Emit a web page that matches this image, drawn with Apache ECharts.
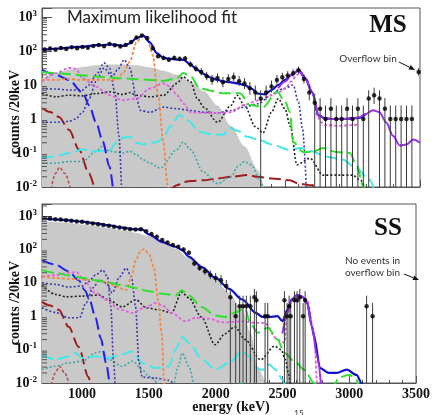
<!DOCTYPE html>
<html><head><meta charset="utf-8">
<script src="https://cdn.jsdelivr.net/npm/echarts@6/dist/echarts.min.js"></script>
<style>html,body{margin:0;padding:0;background:#fff}#c{width:433px;height:415px}</style>
</head><body><div id="c"></div>
<script>
// ---------- axis / tick data ----------
const xRange = [700, 3500];
const xTickLabels = [1000, 1500, 2000, 2500, 3000, 3500];
const yTickExponents = [-2, -1, 0, 1, 2, 3];
const yMaxMS = 1840, yMaxSS = 2290;

// ---------- MS panel: measured points ----------
const msE = [720,760,800,840,880,920,960,1000,1040,1080,1120,1160,1200,1240,1280,1320,1360,1400,1440,1480,1520,1560,1600,1640,1680,1720,1760,1800,1840,1880,1920,1960,2000,2040,2080,2120,2160,2200,2240,2280,2320,2360,2400,2440,2480,2520,2560,2600,2640,2680,2720,2760,2800,2840,2880,2920,2960,3000,3040,3080,3120,3160,3200,3240,3280,3320,3360,3400,3440,3490];
const msN = [110,118,108,122,115,128,120,132,125,140,
             150,138,160,148,135,150,185,250,285,240,
             120,70,62,55,62,58,60,40,30,24,
             18,14,16,12,15,17,13,11,8,6,
             4,6,9,14,17,19,22,27,15,6,
             3,2,1,2,1,1,2,1,2,1,
             4,5,4,2,1,1,1,1,1,24];

// ---------- MS panel: fit components [energy, counts/20keV] ----------
const msGray = [[700,15.8],[800,22.4],[900,28.2],[1000,34],[1100,38],[1200,40],[1300,40],[1400,38],[1500,33],[1600,26.3],[1700,20],[1800,12.6],[1900,6.6],[2000,2.5],[2100,0.63],[2200,0.158],[2300,0.0316],[2350,0.01],[2400,0.003]];
const msTotal = [[700,112],[750,112],[800,117],[850,120],[900,126],[950,132],[1000,132],[1050,141],[1100,148],[1150,148],[1200,158],[1250,151],[1300,141],[1350,166],[1400,240],[1450,282],[1500,178],[1550,87],[1600,63],[1650,59],[1700,56],[1750,55],[1800,40],[1850,28],[1900,21],[1950,16.6],[2000,14.1],[2050,12.6],[2100,12],[2150,11.2],[2200,10],[2250,7.9],[2300,5.6],[2350,5.25],[2400,7.1],[2450,10],[2500,14.1],[2550,20],[2600,27.5],[2650,15.8],[2700,6.3],[2750,1.26],[2800,1.05],[2850,1],[2900,1],[2950,1],[3000,1.05],[3050,1.07],[3100,1.41]];
const msPurple = [[2450,8],[2500,12.6],[2550,20],[2600,27.5],[2650,15.8],[2700,6.3],[2750,1.26],[2800,1],[2900,1],[3000,1.05],[3050,1.12],[3100,1.41],[3150,1.82],[3200,1.58],[3250,0.79],[3300,0.32],[3350,0.166],[3400,0.178],[3450,0.25],[3500,0.2]];
const msGreen = [[700,24],[800,22.4],[900,20.9],[1000,19],[1100,17.8],[1200,16.6],[1300,15.8],[1400,14.8],[1500,14.1],[1600,13.2],[1700,15.8],[1745,22.4],[1800,18],[1870,7.9],[2040,5.75],[2166,5.75],[2240,2.57],[2337,2.24],[2441,6.3],[2500,3.2],[2537,1.58],[2560,0.21],[2633,0.107],[2707,0.107],[2780,0.141],[2880,0.107],[2980,0.1],[3030,0.045],[3078,0.0112],[3100,0.005]];
const msOrange = [[700,14.1],[800,14.1],[900,15.1],[1000,14.1],[1100,14.1],[1200,14.1],[1250,14.1],[1300,22],[1350,48],[1400,180],[1450,290],[1480,240],[1520,76],[1560,5],[1600,0.2],[1630,0.0112],[1650,0.003]];
const msMagenta = [[700,12.6],[800,22.4],[900,31.6],[950,30.2],[1000,15.8],[1100,8.9],[1200,5],[1300,3.55],[1400,4],[1500,7.9],[1600,11.2],[1650,9],[1700,5],[1750,2.8],[1800,1.58],[1900,1.51],[2000,1.51],[2100,1.58],[2200,2.6],[2300,3.5],[2400,5],[2460,6.3],[2500,8],[2550,13],[2590,20],[2620,24],[2660,15],[2700,6.3],[2740,1.2],[2770,0.79],[2800,0.66],[2900,0.63],[3000,0.66],[3050,0.7]];
const msBlueLong = [[700,28],[800,20],[900,14],[1000,6],[1050,2.5],[1100,0.8],[1150,0.22],[1200,0.04],[1230,0.006]];
const msNavyA = [[700,7.9],[800,7.6],[900,7.1],[1000,7.1],[1050,10],[1100,20],[1160,44.7],[1200,31.6],[1240,6.3],[1270,0.316],[1290,0.0063]];
const msNavyB = [[700,0.8],[800,0.8],[900,0.85],[950,1.0],[1000,1.58],[1050,4],[1100,12.6],[1160,31.6],[1220,17.8],[1260,28.2],[1310,55],[1350,31.6],[1400,4],[1430,1.78],[1500,1.58],[1600,2.24],[1700,2],[1800,1.78],[1900,1.58],[2000,1.51],[2100,1.78],[2200,2.24],[2300,2.8],[2400,5],[2450,7.1],[2500,7.9],[2560,10],[2600,3.16],[2630,0.5],[2660,0.0063]];
const msBlackDot = [[700,5.6],[800,4.5],[900,5],[1000,4.8],[1100,5.6],[1200,6.3],[1300,5.25],[1350,6],[1400,5],[1500,4.5],[1600,5],[1700,11.2],[1745,17.4],[1800,12.6],[1850,4],[1900,2.2],[2000,0.8],[2100,2.5],[2144,5],[2200,2.5],[2280,0.6],[2337,0.39],[2400,1.58],[2450,4],[2500,2],[2540,0.6],[2588,0.045],[2685,0.07],[2782,0.0224],[2900,0.0224],[3000,0.0224],[3060,0.0158],[3107,0.0063]];
const msCyan = [[700,0.071],[800,0.079],[900,0.1],[1000,0.126],[1100,0.112],[1200,0.12],[1250,0.2],[1300,0.28],[1350,0.3],[1400,0.2],[1450,0.178],[1500,0.2],[1550,0.21],[1600,0.28],[1650,0.6],[1720,1.32],[1780,0.9],[1870,0.42],[1950,0.355],[2040,0.34],[2093,0.55],[2150,0.45],[2220,0.3],[2300,0.25],[2400,0.178],[2537,0.123],[2611,0.141],[2700,0.112],[2800,0.079],[2930,0.063],[3030,0.035],[3130,0.0158],[3160,0.008]];
const msTeal = [[700,0.05],[800,0.05],[900,0.056],[1000,0.056],[1100,0.112],[1150,0.158],[1200,0.112],[1300,0.1],[1350,0.112],[1400,0.089],[1450,0.063],[1500,0.05],[1574,0.036],[1700,0.126],[1745,0.21],[1800,0.126],[1893,0.028],[2000,0.0126],[2100,0.02],[2150,0.04],[2200,0.056],[2250,0.045],[2315,0.0158],[2350,0.0063]];
const msRedLong = [[700,2.1],[760,1.6],[826,1.15],[900,0.48],[974,0.126],[1048,0.025],[1093,0.01],[1110,0.006]];
const msRedLong2 = [[1650,0.0079],[1700,0.0112],[1750,0.0141],[1800,0.0151],[1900,0.0158],[2000,0.0178],[2100,0.02],[2218,0.0224],[2300,0.02],[2400,0.0178],[2537,0.0158],[2600,0.0126],[2700,0.0112],[2760,0.0079]];
const msRedDot = [[760,0.0063],[800,0.025],[830,0.038],[870,0.025],[920,0.0063]];

// ---------- SS panel: measured points ----------
const ssE = [720,760,800,840,880,920,960,1000,1040,1080,1120,1160,1200,1240,1280,1320,1360,1400,1440,1480,1520,1560,1600,1640,1680,1720,1760,1800,1840,1880,1920,1960,2000,2040,2080,
             2110,2150,2180,2205,2230,2260,2290,2305,2370,2390,2515,2535,2550,2562,2590,2610,2630,2655,2670,3130,3175];
const ssN = [860,840,800,780,750,720,690,670,630,600,
             570,540,510,480,450,420,400,395,405,350,
             290,240,190,160,135,120,100,80,38,28,
             22,17,14,12,8,
             3.7,1,2,2,2,2,3.7,3,1,1,3,1,2,1,3,3,3.7,1,3,2,1];

// ---------- SS panel: fit components ----------
const ssGray = [[700,708],[800,661],[900,617],[1000,562],[1100,501],[1200,437],[1300,372],[1400,316],[1500,251],[1600,160],[1700,105],[1800,55],[1900,27],[2000,13],[2093,5.2],[2200,1.6],[2263,0.316],[2315,0.0316],[2367,0.0126],[2380,0.005]];
const ssTotal = [[700,851],[800,794],[900,741],[1000,676],[1100,603],[1200,525],[1300,447],[1400,398],[1450,398],[1500,282],[1600,166],[1700,120],[1750,95],[1800,60],[1900,29],[2000,14],[2100,6.6],[2200,3.16],[2300,1.26],[2350,0.95],[2400,0.95],[2463,1.0],[2500,0.71],[2537,1.55],[2570,3.2],[2611,4.27],[2650,3.8],[2685,2.5],[2720,0.5],[2737,0.25],[2782,0.028],[2850,0.02],[2907,0.02],[2981,0.025],[3055,0.0174],[3093,0.01],[3110,0.005]];
const ssPurple = [[2500,0.3],[2537,1.3],[2570,3],[2611,4.27],[2650,3.8],[2685,2.5],[2720,0.5],[2760,0.063],[2790,0.0079]];
const ssGreen = [[700,24],[800,20],[900,16.6],[1000,14.1],[1100,12],[1200,10],[1300,8.5],[1400,7],[1500,5.6],[1600,4.7],[1700,4.2],[1745,6],[1800,4.2],[1893,1.9],[2000,1.05],[2070,0.95],[2150,1.3],[2218,1.78],[2260,0.6],[2315,0.32],[2390,0.45],[2463,0.2],[2515,0.079],[2589,0.045],[2663,0.025],[2737,0.01],[2780,0.005],[2860,0.006],[2930,0.015],[3004,0.0178],[3050,0.0126],[3080,0.006]];
const ssOrange = [[700,15.8],[800,14.1],[900,13.2],[1000,12.6],[1107,12],[1200,10],[1250,7.9],[1330,6],[1370,15.8],[1404,48],[1430,80],[1463,102],[1500,75],[1537,30],[1570,3],[1596,0.3],[1615,0.01],[1625,0.004]];
const ssMagenta = [[700,14.8],[800,17],[900,20],[960,21],[1000,14],[1100,5],[1181,3.1],[1280,1.6],[1374,1.26],[1470,1.8],[1552,2.5],[1610,2],[1670,1.26],[1774,0.7],[1850,0.9],[1950,0.85],[2050,0.65],[2200,0.7],[2300,0.63],[2367,0.63],[2463,0.2],[2515,0.16],[2537,1.55],[2570,3],[2611,3.8],[2650,3.5],[2685,3.1],[2737,0.316],[2760,0.01],[2770,0.005]];
const ssBlueLong = [[700,48],[800,35],[900,22],[975,12],[1020,6],[1060,2.8],[1100,0.9],[1140,0.22],[1180,0.04],[1210,0.009],[1230,0.004]];
const ssNavyA = [[700,10],[800,9],[900,7.5],[1000,8],[1050,11],[1100,17],[1155,24],[1190,15],[1215,2],[1235,0.05],[1250,0.004]];
const ssNavyB = [[700,1.8],[800,1.3],[900,0.9],[980,0.9],[1030,2.5],[1080,7],[1130,12],[1180,10],[1226,5],[1280,15],[1330,27.5],[1370,15],[1400,2],[1426,0.04],[1450,0.015],[1550,0.014],[1650,0.012],[1700,0.008]];
const ssBlackDot = [[700,8.5],[800,4.5],[885,3.8],[1000,4],[1130,4.3],[1200,3],[1300,1.9],[1404,3.1],[1480,1.8],[1574,1.55],[1670,1.26],[1745,5.25],[1800,3.5],[1893,0.95],[1996,0.14],[2070,0.3],[2144,0.48],[2220,0.2],[2337,0.05],[2441,0.126],[2490,0.1],[2522,0.05],[2545,0.02],[2565,0.005]];
const ssCyan = [[700,0.071],[800,0.05],[900,0.063],[950,0.079],[1000,0.056],[1100,0.063],[1200,0.056],[1300,0.071],[1370,0.089],[1450,0.04],[1550,0.028],[1650,0.0316],[1700,0.1],[1750,0.24],[1800,0.158],[1900,0.05],[2000,0.025],[2100,0.04],[2200,0.089],[2250,0.063],[2300,0.028],[2350,0.025],[2400,0.0355],[2450,0.025],[2500,0.0126],[2530,0.0063]];
const ssTeal = [[700,0.025],[800,0.0316],[900,0.04],[1000,0.045],[1100,0.079],[1150,0.089],[1200,0.05],[1300,0.0316],[1380,0.045],[1450,0.025],[1500,0.0158],[1600,0.0079],[1680,0.0079],[1720,0.0316],[1750,0.079],[1800,0.0316],[1850,0.0063],[2150,0.005],[2190,0.0107],[2230,0.005]];
const ssRedLong = [[700,2.7],[760,2.1],[826,1.55],[900,0.48],[974,0.12],[1048,0.015],[1070,0.006]];
const ssRedDot = [[760,0.0063],[800,0.02],[830,0.0316],[870,0.02],[920,0.005]];

// ---------- build ----------
const SERIF = '"Liberation Serif","DejaVu Serif",serif';
const chart = echarts.init(document.getElementById('c'), null, {renderer: 'canvas'});

function curve(data, g, color, width, dash, z) {
  return {type: 'line', xAxisIndex: g, yAxisIndex: g, data: data, symbol: 'none', showSymbol: false,
    smooth: 0.3, smoothMonotone: 'x', clip: true, silent: true, z: z || 2, lineStyle: {color: color, width: width, type: dash}};
}
function area(data, g) {
  return {type: 'line', xAxisIndex: g, yAxisIndex: g, data: data, symbol: 'none', smooth: 0.3, smoothMonotone: 'x', clip: true,
    silent: true, z: 1, lineStyle: {width: 0, opacity: 0}, areaStyle: {color: '#c9c9c9', opacity: 1, origin: 'start'}};
}
function points(E, N, g) {
  return {type: 'scatter', xAxisIndex: g, yAxisIndex: g, data: E.map((e, i) => [e, N[i]]),
    symbol: 'circle', symbolSize: 4.5, itemStyle: {color: '#000'}, z: 6, silent: true, clip: true};
}
function errBars(E, N, g) {
  const data = E.map((e, i) => {
    const n = N[i], s = Math.sqrt(n);
    return [e, n < 5 ? 0.01 : n - s, n + 1.5 * s];
  });
  return {type: 'custom', xAxisIndex: g, yAxisIndex: g, data: data, z: 5, silent: true, clip: true,
    renderItem: (p, api) => {
      const a = api.coord([api.value(0), api.value(1)]);
      const b = api.coord([api.value(0), api.value(2)]);
      return {type: 'line', shape: {x1: a[0], y1: a[1], x2: b[0], y2: b[1]}, style: {stroke: '#3a3a3a', lineWidth: 1}};
    }};
}
function yMinorTicks(g, max) {
  const d = [];
  for (let k = -2; k <= 3; k++) for (let m = 2; m <= 9; m++) { const v = m * Math.pow(10, k); if (v < max) d.push([xRange[0], v]); }
  return {type: 'custom', xAxisIndex: g, yAxisIndex: g, data: d, z: 7, silent: true, clip: false,
    renderItem: (p, api) => {
      const c = api.coord([api.value(0), api.value(1)]);
      return {type: 'line', shape: {x1: c[0], y1: c[1], x2: c[0] + 5, y2: c[1]}, style: {stroke: '#555', lineWidth: 1}};
    }};
}
function yLabel(v) {
  const l = Math.log10(v), e = Math.round(l);
  if (Math.abs(l - e) > 1e-6 || yTickExponents.indexOf(e) < 0) return '';
  if (e === 0) return '{a|1}';
  if (e === 1) return '{a|10}';
  return '{a|10}{s|' + (e < 0 ? '-' + (-e) : e) + '}';
}
function xAxisMain(g, showLabels) {
  return {type: 'value', gridIndex: g, min: xRange[0], max: xRange[1], splitNumber: 5,
    axisLine: {show: true, lineStyle: {color: '#555', width: 1}},
    axisTick: {show: true, inside: true, length: 7, lineStyle: {color: '#555'}},
    splitLine: {show: false},
    axisLabel: {show: showLabels, margin: 4, fontFamily: SERIF, fontWeight: 'bold', fontSize: 14, color: '#111',
      formatter: v => (xTickLabels.indexOf(v) >= 0 ? String(v) : '')}};
}
function xAxisMinor(g) {
  return {type: 'value', gridIndex: g, min: xRange[0], max: xRange[1], interval: 100, position: 'bottom',
    axisLine: {show: false}, splitLine: {show: false}, axisLabel: {show: false},
    axisTick: {show: true, inside: true, length: 3, lineStyle: {color: '#555'}}};
}
function yAxis(g, max) {
  return {type: 'log', logBase: 10, gridIndex: g, min: 0.01, max: max,
    axisLine: {show: true, lineStyle: {color: '#555'}},
    axisTick: {show: true, inside: true, length: 10, lineStyle: {color: '#555'}},
    splitLine: {show: false}, minorTick: {show: false},
    axisLabel: {margin: 5, formatter: yLabel,
      rich: {a: {fontFamily: SERIF, fontWeight: 'bold', fontSize: 14, color: '#111', lineHeight: 16},
             s: {fontFamily: SERIF, fontWeight: 'bold', fontSize: 9, color: '#111', verticalAlign: 'top', lineHeight: 16, padding: [0, 0, 7, 0]}}}};
}

const series = [
  area(msGray, 0),
  curve(msRedLong, 0, '#a01c1c', 2, [12, 5]),
  curve(msRedLong2, 0, '#a01c1c', 2, [12, 5]),
  curve(msRedDot, 0, '#b85050', 1.6, [3, 2]),
  curve(msTeal, 0, '#40a8a8', 1.6, [2, 2]),
  curve(msCyan, 0, '#40e8e8', 2, [12, 5]),
  curve(msBlackDot, 0, '#222222', 1.6, [2, 2]),
  curve(msNavyA, 0, '#3a3ab0', 1.6, [2, 2]),
  curve(msNavyB, 0, '#3a3ab0', 1.6, [2, 2]),
  curve(msBlueLong, 0, '#2020f0', 2, [12, 5]),
  curve(msMagenta, 0, '#e060e0', 1.8, [3, 2]),
  curve(msOrange, 0, '#f08848', 1.8, [3, 2]),
  curve(msGreen, 0, '#30e030', 2, [12, 5]),
  curve(msTotal, 0, '#1010c8', 2.2, 'solid', 3),
  curve(msPurple, 0, '#9a30e8', 2, 'solid', 4),
  errBars(msE, msN, 0),
  points(msE, msN, 0),
  yMinorTicks(0, yMaxMS),

  area(ssGray, 1),
  curve(ssRedLong, 1, '#a01c1c', 2, [12, 5]),
  curve(ssRedDot, 1, '#b85050', 1.6, [3, 2]),
  curve(ssTeal, 1, '#40a8a8', 1.6, [2, 2]),
  curve(ssCyan, 1, '#40e8e8', 2, [12, 5]),
  curve(ssBlackDot, 1, '#222222', 1.6, [2, 2]),
  curve(ssNavyA, 1, '#3a3ab0', 1.6, [2, 2]),
  curve(ssNavyB, 1, '#3a3ab0', 1.6, [2, 2]),
  curve(ssBlueLong, 1, '#2020f0', 2, [12, 5]),
  curve(ssMagenta, 1, '#e060e0', 1.8, [3, 2]),
  curve(ssOrange, 1, '#f08848', 1.8, [3, 2]),
  curve(ssGreen, 1, '#30e030', 2, [12, 5]),
  curve(ssTotal, 1, '#1010c8', 2.2, 'solid', 3),
  curve(ssPurple, 1, '#9a30e8', 2, 'solid', 4),
  errBars(ssE, ssN, 1),
  points(ssE, ssN, 1),
  yMinorTicks(1, yMaxSS)
];

function arrow(x1, y1, x2, y2) {
  const ang = Math.atan2(y2 - y1, x2 - x1), L = 6, W = 2.5;
  const bx = x2 - L * Math.cos(ang), by = y2 - L * Math.sin(ang);
  return [
    {type: 'line', shape: {x1: x1, y1: y1, x2: bx, y2: by}, style: {stroke: '#111', lineWidth: 1}, z: 10},
    {type: 'polygon', shape: {points: [[x2, y2], [bx - W * Math.sin(ang), by + W * Math.cos(ang)], [bx + W * Math.sin(ang), by - W * Math.cos(ang)]]}, style: {fill: '#111'}, z: 10}
  ];
}

const graphic = [
  {type: 'text', x: 67, y: 18, z: 10, style: {text: 'Maximum likelihood fit', font: '17px Lato, "Open Sans", sans-serif', fill: '#222', verticalAlign: 'middle'}},
  {type: 'text', x: 388, y: 26, z: 10, style: {text: 'MS', font: 'bold 25px ' + SERIF, fill: '#111', align: 'center', verticalAlign: 'middle'}},
  {type: 'text', x: 368, y: 59, z: 10, style: {text: 'Overflow bin', font: '10px Lato, sans-serif', fill: '#333', align: 'center', verticalAlign: 'middle'}},
  ...arrow(399, 62, 415, 70),
  {type: 'text', x: 388, y: 229, z: 10, style: {text: 'SS', font: 'bold 25px ' + SERIF, fill: '#111', align: 'center', verticalAlign: 'middle'}},
  {type: 'text', x: 345, y: 261, z: 10, style: {text: 'No events in', font: '10px Lato, sans-serif', fill: '#333', verticalAlign: 'middle'}},
  {type: 'text', x: 345, y: 273, z: 10, style: {text: 'overflow bin', font: '10px Lato, sans-serif', fill: '#333', verticalAlign: 'middle'}},
  ...arrow(404, 274, 419, 280),
  {type: 'text', x: 15, y: 112, rotation: Math.PI / 2, z: 10, style: {text: 'counts /20keV', font: 'bold 14px ' + SERIF, fill: '#111', align: 'center', verticalAlign: 'middle'}},
  {type: 'text', x: 15, y: 303, rotation: Math.PI / 2, z: 10, style: {text: 'counts /20keV', font: 'bold 14px ' + SERIF, fill: '#111', align: 'center', verticalAlign: 'middle'}},
  {type: 'text', x: 231, y: 407, z: 10, style: {text: 'energy (keV)', font: 'bold 14px ' + SERIF, fill: '#111', align: 'center', verticalAlign: 'middle'}},
  {type: 'text', x: 299, y: 413, z: 10, style: {text: '15', font: '8px Lato, sans-serif', fill: '#333', align: 'center', verticalAlign: 'middle'}}
];

chart.setOption({
  animation: false,
  backgroundColor: '#fff',
  grid: [
    {left: 42, top: 8, width: 378, height: 179, show: true, borderColor: '#555', borderWidth: 1, backgroundColor: 'transparent', containLabel: false},
    {left: 42, top: 204, width: 378, height: 179, show: true, borderColor: '#555', borderWidth: 1, backgroundColor: 'transparent', containLabel: false}
  ],
  xAxis: [xAxisMain(0, false), xAxisMain(1, true), xAxisMinor(0), xAxisMinor(1)],
  yAxis: [yAxis(0, yMaxMS), yAxis(1, yMaxSS)],
  series: series,
  graphic: graphic
});
</script>
</body></html>
